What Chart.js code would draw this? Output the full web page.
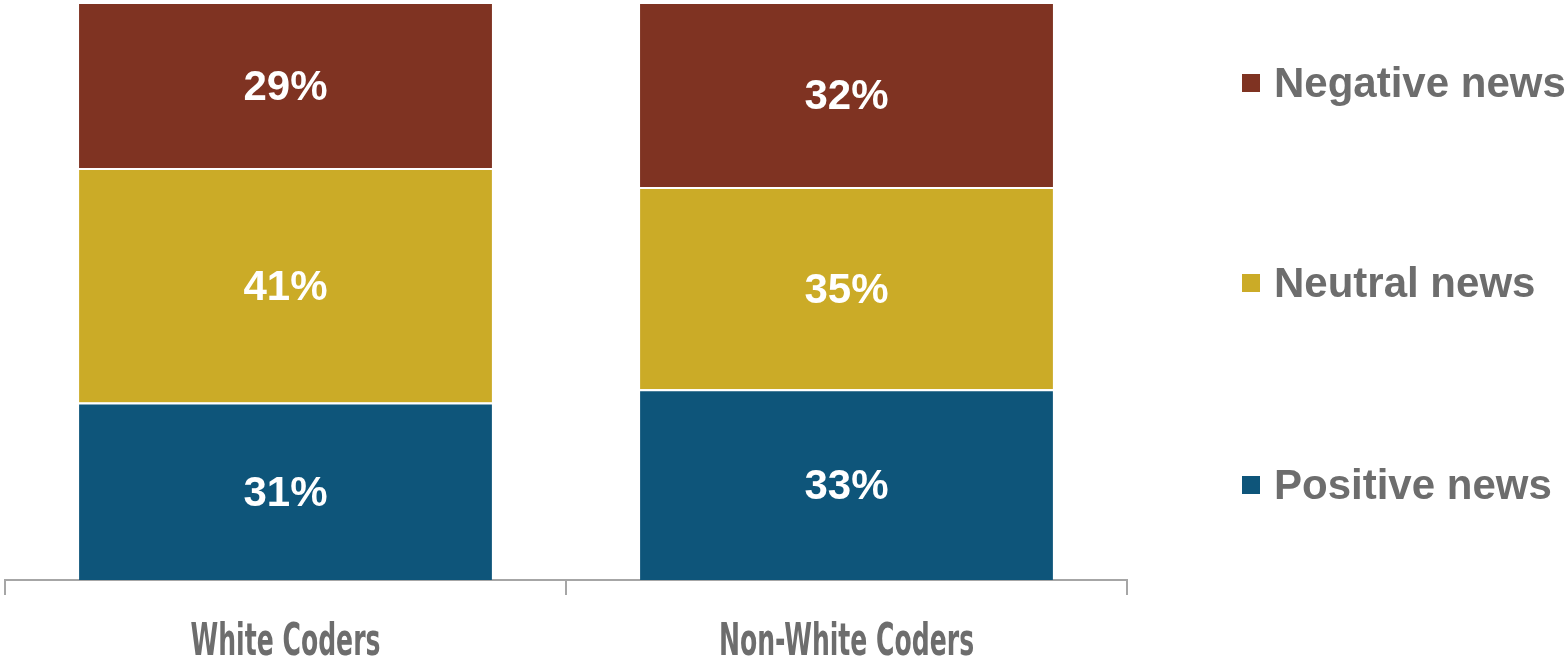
<!DOCTYPE html>
<html>
<head>
<meta charset="utf-8">
<script src="https://cdn.jsdelivr.net/npm/chart.js@4/dist/chart.umd.min.js"></script>
<style>
  html, body { margin: 0; padding: 0; background: #fff; }
  #wrap { position: relative; width: 1568px; height: 660px; }
</style>
</head>
<body>
<div id="wrap"><canvas id="chart"></canvas></div>
<script>
// categories and series (percent, as printed on the bars)
const categories = ['White Coders', 'Non-White Coders'];
const positive = [31, 33];
const neutral = [41, 35];
const negative = [29, 32];
const seriesNames = ['Positive news', 'Neutral news', 'Negative news'];
const seriesColors = ['#0e557a', '#cbab27', '#7f3322'];

// bars fill the full height, so each stack is scaled to its own total
const totals = categories.map((_, i) => positive[i] + neutral[i] + negative[i]);
const share = arr => arr.map((v, i) => v / totals[i] * 100);
const rawSeries = [positive, neutral, negative];

const barLabels = {
    id: 'barLabels',
    afterDatasetsDraw(chart) {
        const ctx = chart.ctx;
        ctx.save();
        ctx.fillStyle = '#ffffff';
        ctx.font = 'bold 42px "Liberation Sans", Arial, sans-serif';
        ctx.textAlign = 'center';
        ctx.textBaseline = 'middle';
        chart.data.datasets.forEach((ds, di) => {
            chart.getDatasetMeta(di).data.forEach((bar, i) => {
                const y = (bar.y + bar.base) / 2;
                ctx.fillText(rawSeries[di][i] + '%', bar.x, y + 3);
            });
        });
        ctx.restore();
    }
};

// condensed category labels under the axis, placed by the x scale
const catLabels = {
    id: 'catLabels',
    afterDraw(chart) {
        const ctx = chart.ctx;
        const xs = chart.scales.x;
        ctx.save();
        ctx.fillStyle = '#6d6d6d';
        ctx.font = 'bold 45px "DejaVu Sans Condensed", "DejaVu Sans", sans-serif';
        ctx.textAlign = 'center';
        ctx.textBaseline = 'alphabetic';
        chart.data.labels.forEach((lab, i) => {
            const x = xs.getPixelForTick(i);
            ctx.save();
            ctx.translate(x, 655);
            ctx.scale(0.62, 1);
            ctx.fillText(lab, 0, 0);
            ctx.restore();
        });
        ctx.restore();
    }
};

// legend on the right, top item = last series
const sideLegend = {
    id: 'sideLegend',
    afterDraw(chart) {
        const ctx = chart.ctx;
        const rows = [83, 283, 485];
        ctx.save();
        ctx.font = 'bold 42px "Liberation Sans", Arial, sans-serif';
        ctx.textBaseline = 'middle';
        ctx.textAlign = 'left';
        for (let k = 0; k < 3; k++) {
            const di = 2 - k;
            ctx.fillStyle = seriesColors[di];
            ctx.fillRect(1242, rows[k] - 9, 18, 18);
            ctx.fillStyle = '#6d6d6d';
            ctx.fillText(seriesNames[di], 1274, rows[k] + 2);
        }
        ctx.restore();
    }
};

new Chart(document.getElementById('chart'), {
    type: 'bar',
    data: {
        labels: categories,
        datasets: rawSeries.map((arr, di) => ({
            label: seriesNames[di],
            data: share(arr),
            backgroundColor: seriesColors[di],
            borderColor: '#ffffff',
            borderWidth: { top: 2, bottom: 0, left: 0, right: 0 },
            borderSkipped: false,
            categoryPercentage: 1,
            barPercentage: 0.736
        }))
    },
    options: {
        responsive: true,
        maintainAspectRatio: false,
        animation: false,
        layout: { padding: { left: 5, right: 441, top: 2, bottom: 0 } },
        plugins: { legend: { display: false }, tooltip: { enabled: false } },
        scales: {
            x: {
                stacked: true,
                offset: true,
                grid: {
                    display: true, drawOnChartArea: false, drawTicks: true,
                    tickLength: 15, color: '#a6a6a6', lineWidth: 2, offset: true
                },
                border: { display: true, color: '#a6a6a6', width: 2 },
                ticks: { display: false },
                afterFit(scale) { scale.height = 80; }
            },
            y: {
                stacked: true, display: false, min: 0, max: 100
            }
        }
    },
    plugins: [barLabels, catLabels, sideLegend]
});
</script>
</body>
</html>
